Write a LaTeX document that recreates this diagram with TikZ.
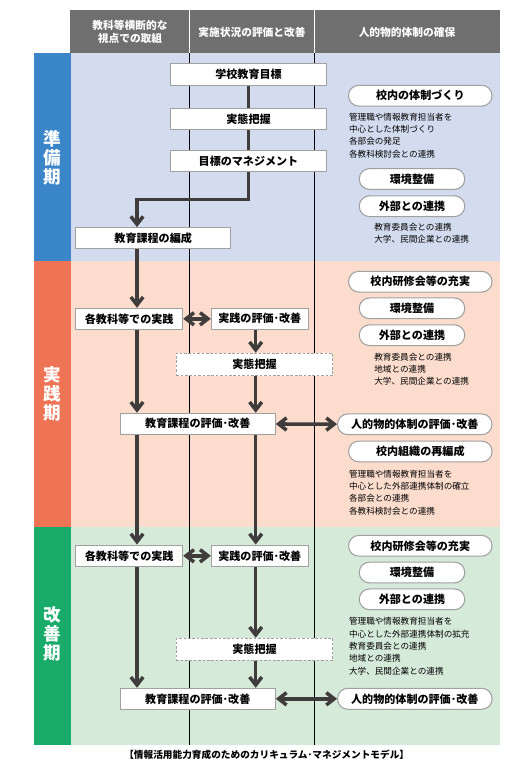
\documentclass[tikz,border=0pt]{standalone}
\usepackage{fontspec}
\setmainfont{Noto Sans CJK JP}
\usepackage{xcolor}
\usepackage{tikz}
\usetikzlibrary{arrows.meta,positioning,calc}

\definecolor{headgray}{HTML}{6F6F6F}
\definecolor{boxgray}{HTML}{A0A0A0}
\definecolor{linegray}{HTML}{403C3B}
\definecolor{prepdark}{HTML}{3A86C8}
\definecolor{preplight}{HTML}{D3DCEF}
\definecolor{practdark}{HTML}{EE7455}
\definecolor{practlight}{HTML}{FBDCCD}
\definecolor{impdark}{HTML}{19AB6A}
\definecolor{implight}{HTML}{D6EADA}

\pgfdeclarelayer{back}
\pgfsetlayers{back,main}

\begin{document}
\begin{tikzpicture}[x=0.02cm, y=-0.02cm,
  block/.style={rectangle, draw=boxgray, line width=0.6pt, fill=white, inner sep=0pt, minimum height=0.43cm, font=\fontsize{6.3}{7.5}\selectfont\bfseries},
  dblock/.style={block, dash pattern=on 1.5pt off 1pt},
  pill/.style={block, rounded corners=0.205cm, minimum height=0.415cm},
  note/.style={anchor=base west, inner sep=0pt, align=left, font=\fontsize{4.9}{7}\selectfont},
  head/.style={text=white, align=center, inner sep=0pt, font=\fontsize{6.1}{7.7}\selectfont\bfseries},
  phase/.style={text=white, align=center, inner sep=0pt, font=\fontsize{10}{10.9}\selectfont\bfseries},
  line/.style={draw=linegray, line width=2pt},
  arrow/.style={line, -{Straight Barb[length=4.5pt,width=7pt]}},
  darrow/.style={line, {Straight Barb[length=4.5pt,width=7pt]}-{Straight Barb[length=4.5pt,width=7pt]}}]
  \useasboundingbox (0,0) rectangle (512,766);

  % column lines
  \coordinate (xa) at (137,0);
  \coordinate (xb) at (248.3,0);
  \coordinate (xc) at (255.7,0);
  \coordinate (spine) at (473.3,0);
  \coordinate (bend) at (137,199.3);

  % header
  \fill[headgray] (70,10) rectangle (500,53);
  \draw[white, line width=0.6pt] (189.3,10) -- (189.3,53) (314.3,10) -- (314.3,53);
  \node[head] (headA) at (130,32) {教科等横断的な\\視点での取組};
  \node[head] (headB) at (252,32) {実施状況の評価と改善};
  \node[head] (headC) at (407,32) {人的物的体制の確保};

  % phase bands
  \fill[prepdark] (34,53) rectangle (70.7,261);
  \fill[preplight] (70.7,53) rectangle (500,261);
  \fill[practdark] (34,261) rectangle (70.7,527);
  \fill[practlight] (70.7,261) rectangle (500,527);
  \fill[impdark] (34,527) rectangle (70.7,745);
  \fill[implight] (70.7,527) rectangle (500,745);
  \node[phase] (prep) at (52,158) {準\\備\\期};
  \node[phase] (pract) at (52,394) {実\\践\\期};
  \node[phase] (imp) at (52,634) {改\\善\\期};
  \draw[black, line width=0.6pt] (189.3,53) -- (189.3,745) (314.3,53) -- (314.3,745);

  % preparation
  \node[block, minimum width=3.13cm] (goal) at (248.5,74.3) {学校教育目標};
  \node[block, minimum width=3.13cm] (survey1) at (248.5,118.8) {実態把握};
  \node[block, minimum width=3.13cm, minimum height=0.41cm] (mgmt) at (248.5,161) {目標のマネジメント};
  \node[block, minimum width=3.1cm, minimum height=0.42cm] (plan) at (153.2,238.2) {教育課程の編成};
  \node[pill, minimum width=2.87cm] (taisei) at (420.3,95.7) {校内の体制づくり};
  \node[note] (note1) at (348.7,157.3) {管理職や情報教育担当者を\\中心とした体制づくり\\各部会の発足\\各教科検討会との連携};
  \node[pill, minimum width=2.11cm] (env1) at (412,179) {環境整備};
  \node[pill, minimum width=2.11cm] (ext1) at (412,206.2) {外部との連携};
  \node[note] (note2) at (374,242.7) {教育委員会との連携\\大学、民間企業との連携};

  % practice
  \node[block, minimum width=2.14cm, minimum height=0.42cm] (prac2) at (129.2,318.8) {各教科等での実践};
  \node[block, minimum width=1.94cm, minimum height=0.42cm] (eval2) at (259.8,318.8) {実践の評価･改善};
  \node[dblock, minimum width=3.13cm, minimum height=0.45cm] (survey2) at (254.5,364.5) {実態把握};
  \node[block, minimum width=3.1cm, minimum height=0.42cm] (curr2) at (197.8,423.8) {教育課程の評価･改善};
  \node[pill, minimum width=2.87cm] (train2) at (420.3,281.7) {校内研修会等の充実};
  \node[pill, minimum width=2.11cm] (env2) at (412,308.3) {環境整備};
  \node[pill, minimum width=2.11cm] (ext2) at (412,335.2) {外部との連携};
  \node[note] (note3) at (374,384.7) {教育委員会との連携\\地域との連携\\大学、民間企業との連携};
  \node[pill, minimum width=3.09cm] (hr2) at (414.8,424.3) {人的物的体制の評価･改善};
  \node[pill, minimum width=2.87cm] (reorg) at (420.3,451.5) {校内組織の再編成};
  \node[note] (note4) at (348.7,514) {管理職や情報教育担当者を\\中心とした外部連携体制の確立\\各部会との連携\\各教科検討会との連携};

  % improvement
  \node[block, minimum width=2.14cm, minimum height=0.43cm] (prac3) at (129.2,555.8) {各教科等での実践};
  \node[block, minimum width=1.94cm, minimum height=0.43cm] (eval3) at (259.8,555.8) {実践の評価･改善};
  \node[pill, minimum width=2.87cm] (train3) at (420.3,545.8) {校内研修会等の充実};
  \node[pill, minimum width=2.11cm] (env3) at (412,572.5) {環境整備};
  \node[pill, minimum width=2.11cm] (ext3) at (412,599.3) {外部との連携};
  \node[note] (note5) at (348.7,674) {管理職や情報教育担当者を\\中心とした外部連携体制の拡充\\教育委員会との連携\\地域との連携\\大学、民間企業との連携};
  \node[dblock, minimum width=3.13cm, minimum height=0.44cm] (survey3) at (254.5,649.3) {実態把握};
  \node[block, minimum width=3.1cm, minimum height=0.42cm] (curr3) at (197.8,698.8) {教育課程の評価･改善};
  \node[pill, minimum width=3.09cm, minimum height=0.42cm] (hr3) at (414.8,698.8) {人的物的体制の評価･改善};

  \node[font=\fontsize{5.5}{6.5}\selectfont\bfseries, inner sep=0pt] (caption) at (266.7,755) {【情報活用能力育成のためのカリキュラム･マネジメントモデル】};

  % connectors
  \path [line] (goal.south -| xb) -- (survey1.north -| xb);
  \path [line] (survey1.south -| xb) -- (mgmt.north -| xb);
  \path [arrow] (mgmt.south -| xb) |- (bend) -- (plan.north -| bend);
  \path [arrow] (plan.south -| xa) -- (prac2.north -| xa);
  \path [darrow] (prac2) -- (eval2);
  \path [arrow] (eval2.south -| xc) -- (survey2.north -| xc);
  \path [arrow] (survey2.south -| xc) -- (curr2.north -| xc);
  \path [arrow] (prac2.south -| xa) -- (curr2.north -| xa);
  \path [darrow] (curr2) -- (hr2);
  \path [arrow] (curr2.south -| xa) -- (prac3.north -| xa);
  \path [arrow] (curr2.south -| xc) -- (eval3.north -| xc);
  \path [darrow] (prac3) -- (eval3);
  \path [arrow] (eval3.south -| xc) -- (survey3.north -| xc);
  \path [arrow] (survey3.south -| xc) -- (curr3.north -| xc);
  \path [arrow] (prac3.south -| xa) -- (curr3.north -| xa);
  \path [darrow] (curr3) -- (hr3);
  \begin{pgfonlayer}{back}
    \path [line] (taisei.south -| spine) -- (hr3.north -| spine);
  \end{pgfonlayer}
\end{tikzpicture}
\end{document}
